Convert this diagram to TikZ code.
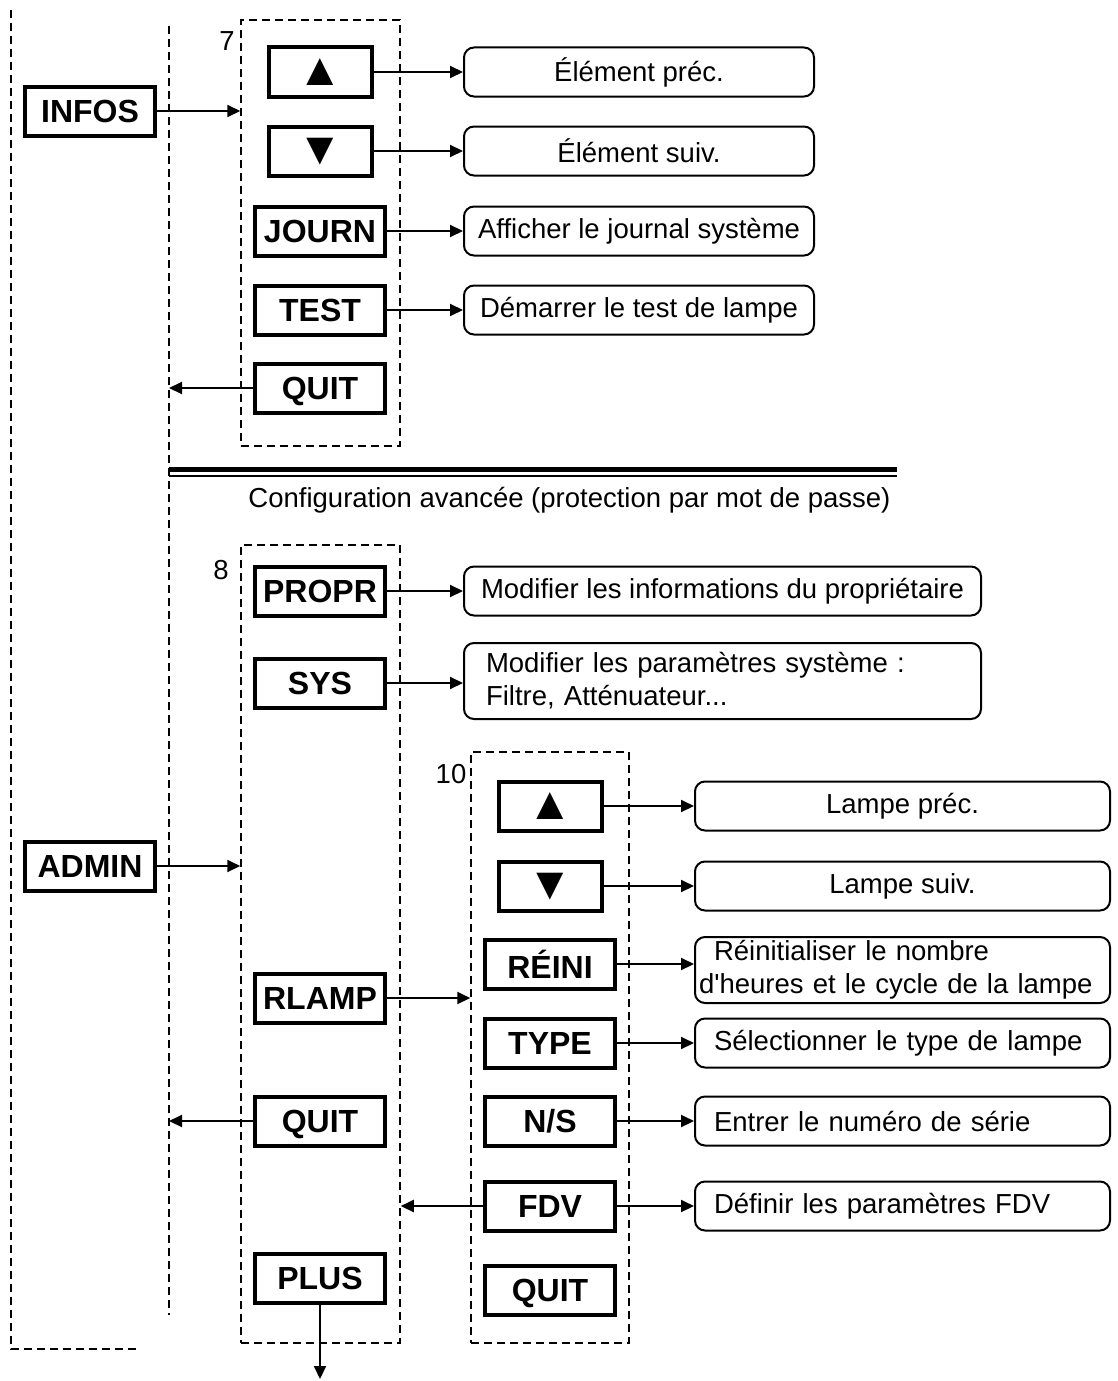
\documentclass[tikz,border=0pt]{standalone}
\usepackage{fontspec}
\setmainfont{Liberation Sans}
\usetikzlibrary{arrows.meta,positioning,calc}
\newcommand{\btnfont}{\bfseries\fontsize{32}{38}\selectfont}
\newcommand{\dscfont}{\fontsize{27.5}{33}\selectfont}
\newcommand{\trifont}{\fontsize{46}{50}\selectfont}
\tikzset{
  btn/.style   = {rectangle, draw=black, line width=4pt, minimum width=130pt,
                  minimum height=49pt, inner sep=0pt, text depth=0pt, font=\btnfont},
  btnt/.style  = {btn, minimum width=103pt, font=\trifont},
  dsc/.style   = {rectangle, rounded corners=10pt, draw=black, line width=2pt,
                  minimum height=49pt, inner sep=0pt, font=\dscfont},
  grp/.style   = {rectangle, draw=black, line width=1.5pt, dash pattern=on 8pt off 5pt,
                  inner sep=0pt},
  grpl/.style  = {draw=black, line width=1.5pt, dash pattern=on 8pt off 5pt},
  fl/.style    = {-{Triangle[length=13pt, width=12pt]}, line width=2pt},
  num/.style   = {font=\dscfont, inner sep=0pt},
}

\begin{document}
\begin{tikzpicture}[x=1pt, y=-1pt]
  \useasboundingbox (0,0) rectangle (1117,1381);
  % cadres
  \coordinate (o1) at (11,10);
  \coordinate (o2) at (11,1349);
  \coordinate (o3) at (137,1349);
  \coordinate (l1) at (169,26);
  \coordinate (l2) at (169,1315);
  \draw[grpl] (o1) -- (o2) -- (o3);
  \draw[grpl] (l1) -- (l2);
  \node[grp, minimum width=159pt, minimum height=426pt] (g7) at (320.5,233) {};
  \node[grp, minimum width=159pt, minimum height=798pt] (g8) at (320.5,944) {};
  \node[grp, minimum width=158pt, minimum height=591pt] (g10) at (550,1047.5) {};
  \node[num] at (227,41) {7};
  \node[num] at (221,570) {8};
  \node[num] at (451,774) {10};

  \node[btn] (infos) at (90,111) {INFOS};
  \node[btn] (admin) at (90,866) {ADMIN};

  % menu 7
  \node[btnt] (up7) at (320,72) {▲};
  \node[btnt] (dn7) at (320,151) {▼};
  \node[btn] (journ) at (320,231) {JOURN};
  \node[btn] (test) at (320,310) {TEST};
  \node[btn] (quit7) at (320,388) {QUIT};
  \node[dsc, minimum width=350pt] (dup7) at (639,72) {Élément préc.};
  \node[dsc, minimum width=350pt] (ddn7) at (639,151) {Élément suiv.};
  \node[dsc, minimum width=350pt] (djourn) at (639,231) {Afficher le journal système};
  \node[dsc, minimum width=350pt] (dtest) at (639,310) {Démarrer le test de lampe};

  \coordinate (s1) at (169,469.5);
  \coordinate (s2) at (897,469.5);
  \coordinate (s3) at (169,476);
  \coordinate (s4) at (897,476);
  \draw[line width=5pt] (s1) -- (s2);
  \draw[line width=2pt] (s3) -- (s4);
  \node[num] (conf) at (569.5,500) {Configuration avancée (protection par mot de passe)};

  % menu 8
  \node[btn] (propr) at (320,591) {PROPR};
  \node[btn] (sys) at (320,683) {SYS};
  \node[btn] (rlamp) at (320,998) {RLAMP};
  \node[btn] (quit8) at (320,1121) {QUIT};
  \node[btn] (plus) at (320,1278) {PLUS};
  \node[dsc, minimum width=517pt] (dpropr) at (722.5,591) {Modifier les informations du propriétaire};
  \node[dsc, minimum height=76pt, text width=473pt, inner xsep=22pt, align=left] (dsys) at (722.5,681)
    {Modifier les paramètres système :\\Filtre, Atténuateur...};

  % menu 10
  \node[btnt] (up10) at (550,806) {▲};
  \node[btnt] (dn10) at (550,886) {▼};
  \node[btn] (reini) at (550,964) {RÉINI};
  \node[btn] (type) at (550,1043) {TYPE};
  \node[btn] (ns) at (550,1121) {N/S};
  \node[btn] (fdv) at (550,1206) {FDV};
  \node[btn] (quit10) at (550,1290) {QUIT};
  \node[dsc, minimum width=415pt] (dup10) at (902.5,806) {Lampe préc.};
  \node[dsc, minimum width=415pt] (ddn10) at (902.5,886) {Lampe suiv.};
  \node[dsc, minimum height=66pt, text width=407pt, inner xsep=4pt, align=left] (dreini) at (902.5,970)
    {\hspace*{15pt}Réinitialiser le nombre\\d\textquotesingle heures et le cycle de la lampe};
  \node[dsc, text width=377pt, inner xsep=19pt, align=left] (dtype) at (902.5,1043) {Sélectionner le type de lampe};
  \node[dsc, text width=377pt, inner xsep=19pt, align=left] (dns) at (902.5,1121) {Entrer le numéro de série};
  \node[dsc, text width=377pt, inner xsep=19pt, align=left] (dfdv) at (902.5,1206) {Définir les paramètres FDV};
  \coordinate (plusend) at (320,1379);

  \draw[fl] (infos) -- (infos -| g7.west);
  \draw[fl] (admin) -- (admin -| g8.west);
  \draw[fl] (up7) -- (dup7);
  \draw[fl] (dn7) -- (ddn7);
  \draw[fl] (journ) -- (djourn);
  \draw[fl] (test) -- (dtest);
  \draw[fl] (quit7) -- (quit7 -| l1);
  \draw[fl] (propr) -- (dpropr);
  \draw[fl] (sys) -- (sys -| dsys.west);
  \draw[fl] (rlamp) -- (rlamp -| g10.west);
  \draw[fl] (quit8) -- (quit8 -| l1);
  \draw[fl] (plus) -- (plusend);
  \draw[fl] (up10) -- (dup10);
  \draw[fl] (dn10) -- (ddn10);
  \draw[fl] (reini) -- (reini -| dreini.west);
  \draw[fl] (type) -- (dtype);
  \draw[fl] (ns) -- (dns);
  \draw[fl] (fdv) -- (dfdv);
  \draw[fl] (fdv) -- (fdv -| g8.east);
\end{tikzpicture}
\end{document}
